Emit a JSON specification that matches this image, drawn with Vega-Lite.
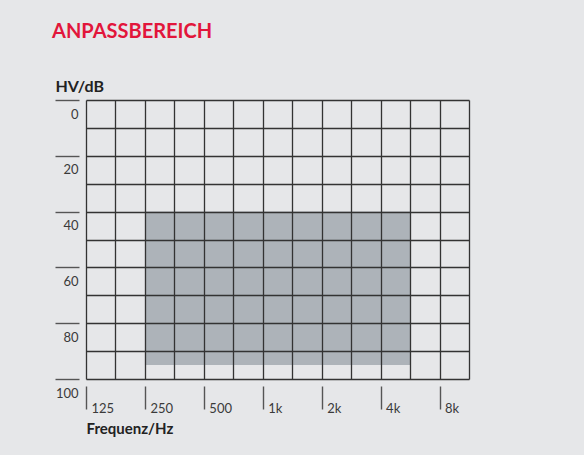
{
  "$schema": "https://vega.github.io/schema/vega-lite/v6.json",
  "width": 383,
  "height": 279,
  "autosize": {"type": "none"},
  "padding": {"left": 86, "top": 100, "right": 115, "bottom": 76},
  "background": "#e6e7e9",
  "title": {
    "text": "ANPASSBEREICH",
    "anchor": "start",
    "frame": "group",
    "dx": -34,
    "dy": -26,
    "offset": 10,
    "font": "Lato",
    "fontSize": 20,
    "fontWeight": "bold",
    "color": "#e2163b"
  },
  "config": {
    "view": {"stroke": null},
    "axis": {"labelFont": "Lato", "titleFont": "Lato"}
  },
  "data": {"values": [{"f0": 1, "f1": 5.5, "db0": 40, "db1": 95}]},
  "mark": {"type": "rect", "color": "#adb3b9"},
  "encoding": {
    "x": {
      "field": "f0",
      "type": "quantitative",
      "scale": {"domain": [0, 6.5], "nice": false, "zero": false},
      "axis": {
        "orient": "bottom",
        "zindex": 1,
        "values": [0, 0.5, 1, 1.5, 2, 2.5, 3, 3.5, 4, 4.5, 5, 5.5, 6, 6.5],
        "labelExpr": "datum.value === 0 ? '125' : datum.value === 1 ? '250' : datum.value === 2 ? '500' : datum.value === 3 ? '1k' : datum.value === 4 ? '2k' : datum.value === 5 ? '4k' : datum.value === 6 ? '8k' : ''",
        "grid": true,
        "gridColor": "#333333",
        "gridWidth": 1.3,
        "gridOpacity": 1,
        "domain": false,
        "ticks": true,
        "tickSize": 23,
        "tickColor": "#555555",
        "tickWidth": 1.4,
        "tickOpacity": {"condition": {"test": "datum.value % 1 === 0 && datum.value < 6.5", "value": 1}, "value": 0},
        "offset": 7,
        "labelAlign": "left",
        "labelBaseline": "alphabetic",
        "labelPadding": 3,
        "labelOffset": 5,
        "labelFontSize": 13,
        "labelColor": "#3a3a3a",
        "labelFlush": false,
        "labelOverlap": false,
        "labelBound": false,
        "title": "Frequenz/Hz",
        "titleFontSize": 15,
        "titleFontWeight": "bold",
        "titleColor": "#222222",
        "titleAlign": "left",
        "titleAnchor": null,
        "titleBaseline": "alphabetic",
        "titleX": 0,
        "titleY": 47
      }
    },
    "x2": {"field": "f1"},
    "y": {
      "field": "db0",
      "type": "quantitative",
      "scale": {"domain": [0, 100], "reverse": true, "nice": false, "zero": false},
      "axis": {
        "zindex": 1,
        "values": [0, 10, 20, 30, 40, 50, 60, 70, 80, 90, 100],
        "labelExpr": "datum.value % 20 === 0 ? datum.label : ''",
        "grid": true,
        "gridColor": "#333333",
        "gridWidth": 1.3,
        "gridOpacity": 1,
        "domain": false,
        "ticks": true,
        "tickSize": 24,
        "tickColor": "#555555",
        "tickWidth": 1.4,
        "tickOpacity": {"condition": {"test": "datum.value % 20 === 0", "value": 1}, "value": 0},
        "offset": 7,
        "labelAlign": "right",
        "labelBaseline": "middle",
        "labelPadding": -23,
        "labelOffset": 14,
        "labelFontSize": 13,
        "labelColor": "#3a3a3a",
        "labelFlush": false,
        "labelOverlap": false,
        "labelBound": false,
        "title": "HV/dB",
        "titleFontSize": 16,
        "titleFontWeight": "bold",
        "titleColor": "#222222",
        "titleAngle": 0,
        "titleAlign": "left",
        "titleAnchor": null,
        "titleBaseline": "alphabetic",
        "titleX": -24,
        "titleY": -9
      }
    },
    "y2": {"field": "db1"}
  }
}
